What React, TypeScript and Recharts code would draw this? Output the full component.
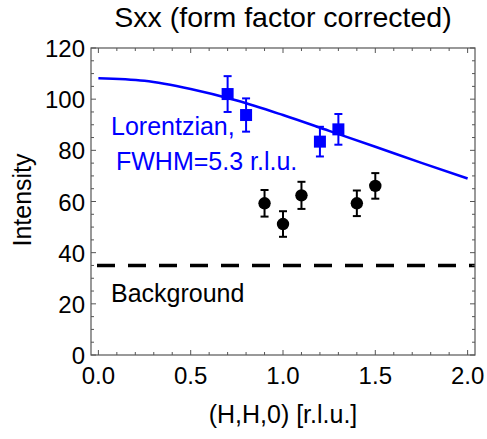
import {
  ComposedChart,
  ErrorBar,
  Line,
  ReferenceLine,
  Scatter,
  XAxis,
  YAxis,
} from 'recharts';

// Lorentzian fit line
const fitH = [0, 0.25, 0.5, 0.75, 1.0, 1.25, 1.5, 1.75, 2.0];
const fitIntensity = [108.2, 107.2, 104.0, 99.5, 93.8, 87.6, 81.4, 75.1, 69.0];

// blue squares (Sxx corrected)
const squareH = [0.7, 0.8, 1.2, 1.3];
const squareIntensity = [102.0, 93.8, 83.4, 88.2];
const squareError = [7.0, 6.5, 5.8, 6.0];

// black circles
const circleH = [0.9, 1.0, 1.1, 1.4, 1.5];
const circleIntensity = [59.3, 51.2, 62.4, 59.3, 66.1];
const circleError = [5.2, 5.0, 5.3, 5.0, 5.0];

const background = 35;

const xTicks = [
  0, 0.1, 0.2, 0.3, 0.4, 0.5, 0.6, 0.7, 0.8, 0.9, 1.0, 1.1, 1.2, 1.3, 1.4, 1.5,
  1.6, 1.7, 1.8, 1.9, 2.0,
];
const yTicks = [
  0, 5, 10, 15, 20, 25, 30, 35, 40, 45, 50, 55, 60, 65, 70, 75, 80, 85, 90, 95,
  100, 105, 110, 115, 120,
];

const fitData = fitH.map((h, i) => ({ h, y: fitIntensity[i] }));
const squareData = squareH.map((h, i) => ({ h, y: squareIntensity[i], err: squareError[i] }));
const circleData = circleH.map((h, i) => ({ h, y: circleIntensity[i], err: circleError[i] }));

const W = 487;
const H = 439;
const TOP = 48;
const BOTTOM = 355;
const LEFT = 91;
const RIGHT = 475;
const FONT = '"Liberation Sans", Arial, sans-serif';
const BLUE = '#0000ff';
const FRAME = '#555';

const isMajorX = (v: number) => Math.abs(v * 2 - Math.round(v * 2)) < 1e-6;
const isMajorY = (v: number) => v % 20 === 0;

// draws the bottom and the mirrored top tick, plus the label for major ticks
function XTick(props: any) {
  const { x, payload } = props;
  const major = isMajorX(payload.value);
  const len = major ? 5 : 3;
  return (
    <g>
      <line x1={x} x2={x} y1={BOTTOM} y2={BOTTOM - len} stroke={FRAME} />
      <line x1={x} x2={x} y1={TOP} y2={TOP + len} stroke={FRAME} />
      {major && (
        <text x={x} y={384} textAnchor="middle" fontSize={24} fontFamily={FONT} fill="#000">
          {payload.value.toFixed(1)}
        </text>
      )}
    </g>
  );
}

function YTick(props: any) {
  const { y, payload } = props;
  const major = isMajorY(payload.value);
  const len = major ? 5 : 3;
  return (
    <g>
      <line x1={LEFT} x2={LEFT + len} y1={y} y2={y} stroke={FRAME} />
      <line x1={RIGHT} x2={RIGHT - len} y1={y} y2={y} stroke={FRAME} />
      {major && (
        <text x={85} y={y + 9} textAnchor="end" fontSize={24} fontFamily={FONT} fill="#000">
          {payload.value}
        </text>
      )}
    </g>
  );
}

const squareShape = (p: any) => (
  <rect x={p.cx - 6} y={p.cy - 6} width={12} height={12} fill={BLUE} />
);
const circleShape = (p: any) => <circle cx={p.cx} cy={p.cy} r={6.2} fill="#000" />;

export default function App() {
  return (
    <div style={{ position: 'absolute', left: 0, top: 0, width: W, height: H, background: '#fff' }}>
      <ComposedChart width={W} height={H} margin={{ top: TOP, right: W - RIGHT, bottom: 0, left: 0 }}>
        <XAxis
          type="number"
          dataKey="h"
          domain={[-0.04, 2.04]}
          ticks={xTicks}
          interval={0}
          height={H - BOTTOM}
          tickLine={false}
          axisLine={false}
          tick={<XTick />}
          allowDataOverflow
        />
        <YAxis
          type="number"
          domain={[0, 120]}
          ticks={yTicks}
          interval={0}
          width={LEFT}
          tickLine={false}
          axisLine={false}
          tick={<YTick />}
          allowDataOverflow
        />
        <ReferenceLine
          y={background}
          stroke="#000"
          strokeWidth={3.5}
          strokeDasharray="18 13"
          strokeDashoffset={25}
        />
        <Line
          data={fitData}
          dataKey="y"
          type="monotone"
          stroke={BLUE}
          strokeWidth={2.5}
          dot={false}
          isAnimationActive={false}
        />
        <Scatter data={squareData} dataKey="y" shape={squareShape} isAnimationActive={false}>
          <ErrorBar dataKey="err" direction="y" width={4} strokeWidth={2} stroke={BLUE} />
        </Scatter>
        <Scatter data={circleData} dataKey="y" shape={circleShape} isAnimationActive={false}>
          <ErrorBar dataKey="err" direction="y" width={4} strokeWidth={2} stroke="#000" />
        </Scatter>
      </ComposedChart>
      <svg
        width={W}
        height={H}
        style={{ position: 'absolute', left: 0, top: 0, pointerEvents: 'none' }}
        fontFamily={FONT}
      >
        <rect
          x={LEFT}
          y={TOP}
          width={RIGHT - LEFT}
          height={BOTTOM - TOP}
          fill="none"
          stroke={FRAME}
          strokeWidth={1.2}
        />
        <text x={283} y={26.5} textAnchor="middle" fontSize={28.5} fill="#000">
          Sxx (form factor corrected)
        </text>
        <text x={283} y={423} textAnchor="middle" fontSize={25} fill="#000">
          (H,H,0) [r.l.u.]
        </text>
        <text
          x={31}
          y={200}
          textAnchor="middle"
          fontSize={25}
          fill="#000"
          transform="rotate(-90 31 200)"
        >
          Intensity
        </text>
        <text x={111} y={134.5} fontSize={25} fill={BLUE}>
          Lorentzian,
        </text>
        <text x={116} y={169.5} fontSize={25} fill={BLUE}>
          FWHM=5.3 r.l.u.
        </text>
        <text x={111} y={301.5} fontSize={25} fill="#000">
          Background
        </text>
      </svg>
    </div>
  );
}
